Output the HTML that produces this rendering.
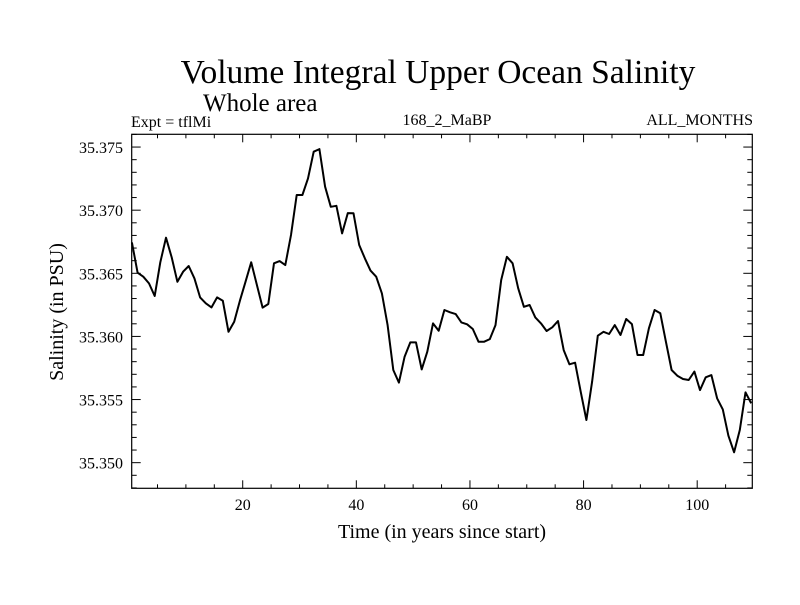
<!DOCTYPE html>
<html><head><meta charset="utf-8"><style>
body{margin:0;background:#fff}
svg text{font-family:"Liberation Serif",serif;fill:#000}
</style></head><body>
<svg id="chart" width="800" height="600" xmlns="http://www.w3.org/2000/svg">
<rect width="800" height="600" fill="#fff"/>
<text x="438" y="83" font-size="33.5" text-anchor="middle">Volume Integral Upper Ocean Salinity</text>
<text x="203" y="111" font-size="25">Whole area</text>
<text x="131" y="127" font-size="16">Expt = tflMi</text>
<text x="447" y="125" font-size="16" text-anchor="middle">168_2_MaBP</text>
<text x="753" y="125" font-size="16" text-anchor="end">ALL_MONTHS</text>
<text transform="translate(63,312) rotate(-90)" font-size="20" text-anchor="middle">Salinity (in PSU)</text>
<text x="442" y="538" font-size="20" text-anchor="middle">Time (in years since start)</text>
<g id="axes"></g>
<path id="line" fill="none" stroke="#000" stroke-width="2" stroke-linejoin="round"/>
<rect x="131.7" y="134.3" width="620.6" height="354" fill="none" stroke="#000" stroke-width="1.2"/>
</svg>
<script>
const years=[];for(let i=0;i<110;i++)years.push(i+0.5);
const salinity=[35.36745,35.36505,35.36473,35.3642,35.3632,35.36587,35.36782,35.36626,35.36433,35.36513,
35.36558,35.3646,35.36309,35.36262,35.3623,35.36309,35.36283,35.36037,35.36117,35.36283,
35.36433,35.36587,35.36407,35.36228,35.36257,35.36579,35.36597,35.36565,35.36803,35.3712,
35.3712,35.37252,35.37463,35.37484,35.37186,35.37027,35.37035,35.36816,35.36977,35.36975,
35.36724,35.36618,35.36521,35.36473,35.36341,35.3609,35.35734,35.35634,35.35839,35.35953,
35.35953,35.35739,35.35879,35.36103,35.36045,35.36209,35.36191,35.36177,35.36111,35.36096,
35.36059,35.35958,35.35958,35.35979,35.3609,35.36447,35.36631,35.36579,35.36381,35.36235,
35.36249,35.36151,35.36103,35.36043,35.36072,35.36122,35.35892,35.35779,35.35792,35.35562,
35.35338,35.35641,35.36006,35.36037,35.36019,35.3609,35.36011,35.36138,35.36098,35.35853,
35.35853,35.36064,35.36209,35.36183,35.35958,35.35734,35.35689,35.35663,35.35655,35.35721,
35.35575,35.35676,35.35694,35.3551,35.35422,35.35214,35.35082,35.35259,35.35557,35.3547];
const xTicks=[20,40,60,80,100];
const yTicks=[35.350,35.355,35.360,35.365,35.370,35.375];
const yLabels=["35.350","35.355","35.360","35.365","35.370","35.375"];
const X0=131.7,X1=752.3,Y0=134.3,Y1=488.3,xmin=0.46,xmax=109.7,ymin=35.34797,ymax=35.37601;
const sx=t=>X0+(t-xmin)/(xmax-xmin)*(X1-X0);
const sy=v=>Y1-(v-ymin)/(ymax-ymin)*(Y1-Y0);
const NS="http://www.w3.org/2000/svg";const g=document.getElementById('axes');
function ln(x1,y1,x2,y2,name){const l=document.createElementNS(NS,'line');
l.setAttribute('x1',x1);l.setAttribute('y1',y1);l.setAttribute('x2',x2);l.setAttribute('y2',y2);
l.setAttribute('stroke','#000');l.setAttribute('stroke-width','1');


g.appendChild(l);}
function tx(x,y,s,anchor,name){const t=document.createElementNS(NS,'text');
t.setAttribute('x',x);t.setAttribute('y',y);t.setAttribute('font-size','16');t.setAttribute('text-anchor',anchor);t.textContent=s;


g.appendChild(t);}
for(let t=5;t<xmax;t+=5){const x=sx(t);const major=t%20===0;const L=major?8:4;
ln(x,Y1,x,Y1-L,'x-tick');ln(x,Y0,x,Y0+L,'x-tick-top');}
xTicks.forEach(t=>tx(sx(t),510,String(t),'middle','x-tick-label'));
for(let k=0;k<=28;k++){const v=35.348+k*0.001;if(v>ymax)break;const y=sy(v);
const major=Math.abs(((v-35.35)/0.005)-Math.round((v-35.35)/0.005))<1e-6;const L=major?9:5;
ln(X0,y,X0+L,y,'y-tick');ln(X1,y,X1-L,y,'y-tick-right');}
yTicks.forEach((v,i)=>tx(123,sy(v)+6,yLabels[i],'end','y-tick-label'));
let d='';years.forEach((t,i)=>{d+=(i?'L':'M')+sx(t).toFixed(1)+','+sy(salinity[i]).toFixed(1);});
document.getElementById('line').setAttribute('d',d);
</script>
</body></html>
